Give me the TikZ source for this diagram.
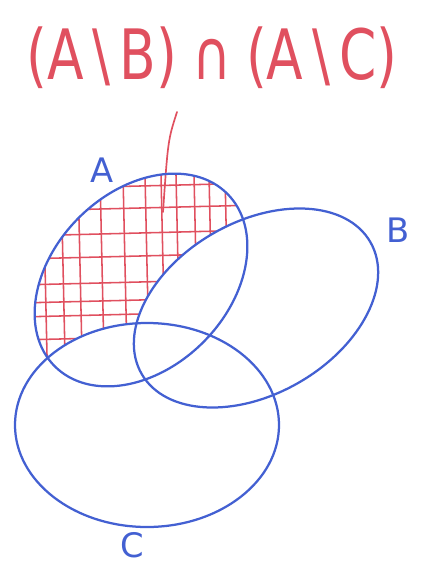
\documentclass[tikz,border=0pt]{standalone}
\usepackage{fontspec}
\newfontfamily\handfont{DejaVu Sans}
\definecolor{Pen}{HTML}{4360D2}
\definecolor{Marker}{HTML}{E0505F}

\begin{document}
\begin{tikzpicture}[
    x=0.025cm, y=-0.025cm,
    set/.style={
        draw=Pen,
        line width=1.6pt
    },
    hatch/.style={
        draw=Marker,
        line width=1.1pt,
        line cap=round
    },
    pointer/.style={
        draw=Marker,
        line width=1.2pt,
        line cap=round
    },
    setlabel/.style={
        font=\handfont\fontsize{24}{26}\selectfont,
        text=Pen,
        inner sep=0pt
    },
    formula/.style={
        font=\handfont\fontsize{38}{42}\selectfont,
        text=Marker
    }
]

% Frame
\useasboundingbox (0,0) rectangle (424,564);

% Title
\node[formula] (title) at (212,58)
{\scalebox{1}[1.3]{(A\,\textbackslash\,B)\;∩\;(A\,\textbackslash\,C)}};

% Hatched region: A without B and without C
\begin{scope}[even odd rule]
    \clip[rotate around={45:(141,280)}] (141,280) ellipse [x radius=122, y radius=88];
    \clip[rotate around={30:(256,308)}] (-600,-600) rectangle (1000,1200)
        (256,308) ellipse [x radius=132, y radius=86];
    \clip (-600,-600) rectangle (1000,1200)
        (147,425) ellipse [x radius=132, y radius=102];
    \foreach \yy in {186,208,233,256,282,300,314,337}
        \draw[hatch] (20,\yy+3) -- (260,\yy-3);
    \foreach \xx in {45,63,80,102,125,147,163,178,196,211,227}
        \draw[hatch] (\xx-2,175) -- (\xx+3,400);
\end{scope}

% Pointer from the formula down into the region
\coordinate (tip) at (177,112);
\coordinate (target) at (163,212);
\draw[pointer] (tip) .. controls (168,140) .. (target);

% Sets
\draw[set, rotate around={45:(141,280)}] (141,280) ellipse [x radius=122, y radius=88];
\draw[set, rotate around={30:(256,308)}] (256,308) ellipse [x radius=132, y radius=86];
\draw[set] (147,425) ellipse [x radius=132, y radius=102];

% Labels
\node[setlabel] (labelA) at (102,170) {A};
\node[setlabel] (labelB) at (398,230) {B};
\node[setlabel] (labelC) at (132,545) {C};

\end{tikzpicture}
\end{document}
